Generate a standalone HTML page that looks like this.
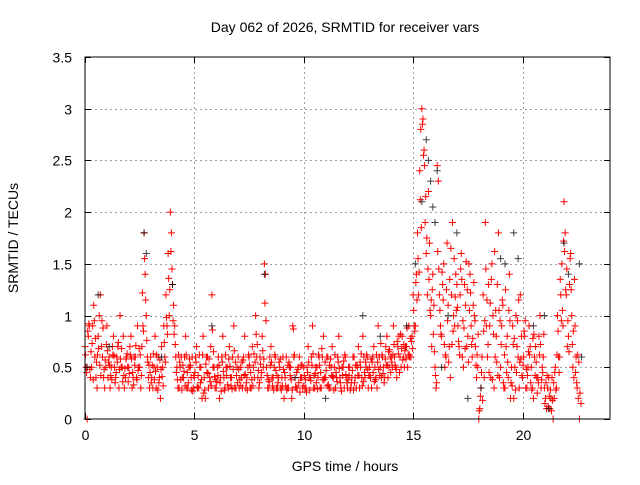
<!DOCTYPE html>
<html><head><meta charset="utf-8"><style>
body{margin:0;background:#fff;}
svg text{font-family:"Liberation Sans",sans-serif;font-size:14px;fill:#000;}
</style></head><body>
<svg id="chart" width="640" height="480" xmlns="http://www.w3.org/2000/svg">
<rect x="0" y="0" width="640" height="480" fill="#fff"/>
<text x="345" y="32" text-anchor="middle">Day 062 of 2026, SRMTID for receiver vars</text>
<text transform="translate(18,238) rotate(-90)" text-anchor="middle">SRMTID / TECUs</text>
<text x="345" y="471" text-anchor="middle">GPS time / hours</text>
<g id="grid"></g>
<g id="ticks"></g>
<g id="red" stroke="#ff0000" stroke-width="1" fill="none"></g>
<g id="black" stroke="#000" stroke-width="1" fill="none" opacity="0.75"></g>
<rect x="85" y="57" width="525" height="362" fill="none" stroke="#000" stroke-width="1"/>
</svg>
<script>
const xTicks=[0,5,10,15,20];
const yTicks=[0,0.5,1,1.5,2,2.5,3,3.5];
const yTickLabels=["0","0.5","1","1.5","2","2.5","3","3.5"];
const redA=[0.7,0.0,0.9,0.5,1.1,0.4,0.8,1.2,0.6,0.3,
0.9,0.6,0.5,0.8,0.4,0.7,1.0,0.5,0.3,0.6,
0.5,0.8,0.4,0.6,0.9,0.5,0.7,1.8,1.0,0.4,
0.6,0.3,0.8,0.5,0.4,0.7,0.9,1.2,1.6,2.0,
1.3,0.9,0.5,0.3,0.6,0.4,0.8,0.3,0.5,0.6,
0.4,0.7,0.3,0.5,0.8,0.2,0.6,0.4,1.2,0.5,
0.3,0.6,0.4,0.8,0.3,0.5,0.7,0.4,0.9,0.3,
0.6,0.5,0.3,0.8,0.4,0.6,0.3,0.5,1.0,0.4,
0.6,0.8,1.5,0.5,0.3,0.7,0.4,0.6,0.3,0.5,
0.4,0.2,0.6,0.3,0.5,0.9,0.4,0.3,0.6,0.4,
0.5,0.3,0.7,0.4,0.9,0.3,0.5,0.6,0.3,0.8,
0.4,0.6,0.3,0.7,0.5,0.4,0.8,0.3,0.5,0.6,
0.3,0.5,0.4,0.6,0.3,0.7,0.5,0.8,0.4,0.6,
0.5,0.3,0.7,0.4,0.9,0.5,0.6,0.4,0.8,0.5,
0.6,0.9,0.5,0.7,0.6,0.8,0.5,0.7,0.9,0.6,
1.2,0.9,1.8,2.4,3.0,2.6,1.6,2.2,1.0,1.4,
0.5,2.45,1.2,0.8,1.5,0.6,1.1,0.4,1.9,0.9,
1.3,0.7,1.6,0.5,1.1,0.8,1.4,0.6,1.0,0.4,
0.0,0.3,1.2,1.9,0.6,0.9,1.5,0.3,0.8,1.8,
0.5,1.1,0.3,0.8,1.4,0.5,0.2,1.0,0.6,1.2,
0.4,0.8,0.3,0.9,0.5,0.2,0.7,0.4,1.0,0.5,
0.3,0.1,0.4,0.2,0.0,0.5,1.0,0.6,1.5,2.1,
1.2,0.8,1.6,0.5,0.9,0.3,0.0];
const redB=[0.5,0.8,0.4,0.9,0.6,0.3,1.0,0.7,0.4,0.5,
0.4,0.3,0.7,0.5,0.6,0.3,0.5,0.8,0.4,0.5,
0.7,0.3,0.6,0.4,0.5,0.3,0.9,1.4,0.6,0.3,
0.4,0.5,0.3,0.6,0.2,0.5,0.6,0.9,1.0,1.8,
1.1,0.6,0.3,0.5,0.4,0.6,0.3,0.5,0.4,0.3,
0.6,0.3,0.5,0.2,0.4,0.6,0.3,0.7,0.5,0.3,
0.5,0.2,0.6,0.4,0.5,0.3,0.4,0.6,0.3,0.5,
0.3,0.4,0.6,0.3,0.5,0.3,0.7,0.4,0.6,0.3,
0.4,0.5,1.4,0.3,0.6,0.4,0.5,0.3,0.4,0.3,
0.6,0.4,0.3,0.5,0.2,0.6,0.3,0.5,0.4,0.3,
0.3,0.5,0.4,0.6,0.3,0.5,0.4,0.3,0.6,0.4,
0.6,0.3,0.5,0.4,0.3,0.6,0.4,0.5,0.3,0.4,
0.5,0.3,0.6,0.4,0.5,0.3,0.4,0.6,0.5,0.3,
0.4,0.6,0.5,0.3,0.6,0.4,0.5,0.7,0.4,0.6,
0.5,0.6,0.4,0.8,0.5,0.6,0.7,0.5,0.6,0.8,
0.9,1.4,1.2,2.8,2.9,1.9,1.2,1.7,0.7,1.1,
0.3,2.3,0.9,1.3,0.5,1.7,0.7,1.2,1.0,1.4,
0.9,1.2,0.6,1.3,0.7,1.5,0.9,1.1,0.7,0.5,
0.1,0.6,0.4,0.9,1.3,0.4,1.0,0.6,1.3,0.4,
0.9,0.3,0.7,0.4,0.2,0.9,0.5,0.7,0.3,0.8,
0.6,0.3,0.5,0.7,0.3,0.6,0.4,0.8,0.3,0.6,
0.2,0.3,0.1,0.4,0.2,0.3,0.6,1.2,0.9,1.8,
0.7,1.3,1.0,0.4,0.6,0.2];
const redC=[0.62,0.85,0.48,0.73,0.95,0.55,0.68,0.42,0.88,0.57,
0.66,0.52,0.38,0.61,0.45,0.74,0.58,0.36,0.49,0.63,
0.44,0.58,0.33,0.71,0.47,0.62,1.22,1.55,0.76,0.52,
0.35,0.63,0.46,0.28,0.57,0.41,0.74,0.98,1.36,1.62,
0.95,0.72,0.38,0.55,0.28,0.46,0.62,0.35,0.52,0.27,
0.45,0.31,0.62,0.38,0.25,0.53,0.44,0.36,0.86,0.41,
0.36,0.52,0.27,0.46,0.62,0.33,0.51,0.29,0.66,0.42,
0.48,0.32,0.57,0.43,0.28,0.52,0.38,0.63,0.82,0.47,
0.53,0.66,1.12,0.42,0.36,0.55,0.28,0.47,0.35,0.58,
0.32,0.45,0.28,0.55,0.38,0.87,0.31,0.48,0.26,0.52,
0.42,0.26,0.55,0.37,0.63,0.44,0.29,0.52,0.68,0.38,
0.47,0.33,0.58,0.41,0.62,0.36,0.49,0.27,0.56,0.43,
0.38,0.28,0.47,0.35,0.52,0.42,0.63,0.36,0.55,0.48,
0.42,0.55,0.36,0.62,0.48,0.73,0.44,0.58,0.52,0.67,
0.55,0.72,0.48,0.63,0.82,0.57,0.66,0.88,0.62,0.75,
1.05,1.32,1.55,2.12,2.85,2.45,1.75,1.35,1.15,0.82,
0.42,1.62,1.05,1.42,0.72,1.25,0.55,1.65,0.85,1.18,
1.08,0.62,1.35,0.88,1.52,0.55,1.22,0.78,0.95,0.62,
0.08,0.45,0.85,1.45,0.72,1.12,0.38,1.62,0.55,1.05,
0.72,0.35,1.25,0.55,0.95,0.32,0.78,0.45,1.15,0.58,
0.52,0.95,0.42,0.62,0.28,0.82,0.55,0.35,0.72,0.45,
0.15,0.42,0.22,0.08,0.35,0.28,0.85,1.35,1.05,1.62,
1.45,0.65,1.25,0.85,0.45,0.62,0.25];
const redD=[0.45,0.92,0.65,0.38,0.78,0.62,0.52,0.95,0.48,0.72,
0.55,0.42,0.62,0.35,0.55,0.48,0.68,0.42,0.58,0.36,
0.62,0.45,0.52,0.38,0.68,0.42,0.85,1.15,0.55,0.45,
0.52,0.38,0.62,0.35,0.48,0.32,0.55,0.82,1.25,1.45,
0.82,0.45,0.62,0.38,0.52,0.32,0.45,0.58,0.28,0.42,
0.55,0.42,0.35,0.62,0.28,0.45,0.58,0.32,0.65,0.38,
0.42,0.35,0.55,0.28,0.42,0.58,0.32,0.48,0.55,0.35,
0.38,0.55,0.42,0.35,0.62,0.45,0.32,0.55,0.72,0.35,
0.45,0.58,0.95,0.38,0.52,0.32,0.62,0.42,0.55,0.28,
0.48,0.32,0.52,0.42,0.28,0.62,0.45,0.35,0.52,0.32,
0.38,0.45,0.28,0.52,0.42,0.35,0.62,0.45,0.38,0.55,
0.32,0.52,0.42,0.28,0.45,0.55,0.35,0.42,0.62,0.35,
0.42,0.35,0.28,0.52,0.42,0.55,0.32,0.45,0.62,0.42,
0.58,0.45,0.38,0.55,0.42,0.62,0.35,0.52,0.65,0.45,
0.62,0.52,0.75,0.45,0.68,0.72,0.58,0.62,0.78,0.68,
0.85,1.15,1.42,1.85,2.55,2.15,1.45,1.05,1.25,0.65,
0.35,1.45,0.82,1.15,0.62,0.95,1.35,0.72,1.55,1.05,
0.75,1.45,0.95,0.68,1.25,1.05,0.72,1.32,0.52,0.82,
0.22,0.18,0.95,1.15,0.45,1.35,0.82,1.05,0.42,0.95,
1.15,0.62,0.45,1.05,0.35,0.72,0.28,0.95,0.55,0.42,
0.85,0.48,0.65,0.35,0.78,0.42,0.25,0.62,0.38,0.82,
0.35,0.12,0.28,0.18,0.45,0.62,0.45,0.95,1.72,1.25,
0.95,1.55,0.72,1.35,0.35,0.55,0.15];
const blackTimes=[0.1,0.6,1.1,2.7,2.8,3.5,4.0,5.8,8.2,9.6,11.0,12.7,13.5,14.7,15.1,15.4,15.6,15.7,15.8,15.9,16.1,16.0,16.3,16.6,17.0,17.5,18.1,19.0,19.2,19.6,19.8,20.5,21.0,21.2,21.9,22.1,22.6,22.7];
const blackValues=[0.5,1.2,0.7,1.8,1.6,0.6,1.3,0.9,1.4,0.4,0.2,1.0,0.8,0.9,1.5,2.1,2.7,2.5,2.3,2.05,2.4,1.9,0.5,1.0,1.8,0.2,0.3,1.55,1.5,1.8,1.55,0.9,1.0,0.1,1.7,1.4,1.5,0.6];
const NS="http://www.w3.org/2000/svg";
const X0=85,X1=610,Y0=419,Y1=57,XMAX=24,YMAX=3.5;
function xs(t){return X0+(X1-X0)*t/XMAX;}
function ys(v){return Y0-(Y0-Y1)*v/YMAX;}
const grid=document.getElementById('grid'),ticks=document.getElementById('ticks');
function ln(p,x1,y1,x2,y2,st,dash,name){const l=document.createElementNS(NS,'line');l.setAttribute('x1',x1);l.setAttribute('y1',y1);l.setAttribute('x2',x2);l.setAttribute('y2',y2);l.setAttribute('stroke',st);if(dash)l.setAttribute('stroke-dasharray',dash);


p.appendChild(l);}
function tx(p,x,y,s,anc,name){const t=document.createElementNS(NS,'text');t.setAttribute('x',x);t.setAttribute('y',y);t.setAttribute('text-anchor',anc);t.textContent=s;


p.appendChild(t);}
xTicks.forEach(t=>{const x=Math.round(xs(t))+0.5;
 if(t>0)ln(grid,x,Y1,x,Y0,'#a0a0a0','2,3','x-grid-line');
 ln(ticks,x,Y0,x,Y0-6,'#000',null,'x-tick');ln(ticks,x,Y1,x,Y1+6,'#000',null,'x-tick');
 tx(ticks,x,440,String(t),'middle','x-tick-label');});
yTicks.forEach((v,i)=>{const y=Math.round(ys(v))+0.5;
 if(v>0&&v<YMAX)ln(grid,X0,y,X1,y,'#a0a0a0','2,3','y-grid-line');
 ln(ticks,X0,y,X0+6,y,'#000',null,'y-tick');ln(ticks,X1,y,X1-6,y,'#000',null,'y-tick');
 tx(ticks,72,y+5,yTickLabels[i],'end','y-tick-label');});
function plus(g,t,v,name){const x=xs(t),y=ys(v);const p=document.createElementNS(NS,'path');
 p.setAttribute('d',`M${x-3.5} ${y}H${x+3.5}M${x} ${y-3.5}V${y+3.5}`);
 
 
 g.appendChild(p);}
const red=document.getElementById('red'),black=document.getElementById('black');
redA.forEach((v,i)=>plus(red,i*0.1,v,'red-point'));
redB.forEach((v,i)=>plus(red,i*0.1+0.05,v,'red-point'));
redC.forEach((v,i)=>plus(red,i*0.1+0.025,v,'red-point'));
redD.forEach((v,i)=>plus(red,i*0.1+0.075,v,'red-point'));
blackTimes.forEach((t,i)=>plus(black,t,blackValues[i],'black-point'));
</script>
</body></html>
